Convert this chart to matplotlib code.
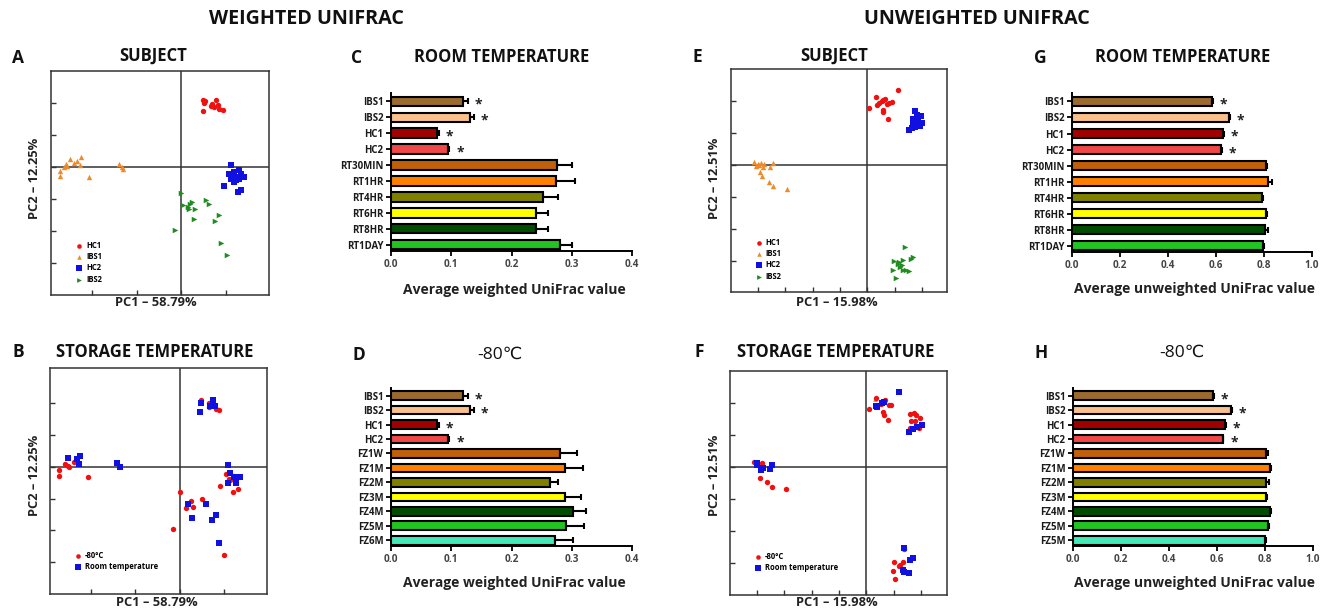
import numpy as np
import matplotlib
matplotlib.use("Agg")
import matplotlib.pyplot as plt

plt.rcParams['font.family'] = ['Open Sans', 'DejaVu Sans']

# ---------------- DATA ----------------
group_labels = ['IBS1', 'IBS2', 'HC1', 'HC2']
group_colors = ['#9A6A2E', '#F9C08C', '#A00000', '#F04848']

rt_labels = ['RT30MIN', 'RT1HR', 'RT4HR', 'RT6HR', 'RT8HR', 'RT1DAY']
rt_colors = ['#C0600A', '#FF8000', '#808000', '#FFFF00', '#004D00', '#22C422']
fz_labels_d = ['FZ1W', 'FZ1M', 'FZ2M', 'FZ3M', 'FZ4M', 'FZ5M', 'FZ6M']
fz_labels_h = ['FZ1W', 'FZ1M', 'FZ2M', 'FZ3M', 'FZ4M', 'FZ5M', 'FZ5M']
fz_colors = ['#C0600A', '#FF8000', '#808000', '#FFFF00', '#004D00', '#22C422', '#44E8B4']

# weighted UniFrac, room temperature (C)
w_rt_mean = [0.120, 0.131, 0.077, 0.095, 0.275, 0.274, 0.252, 0.240, 0.240, 0.280]
w_rt_err = [0.007, 0.007, 0.002, 0.002, 0.025, 0.032, 0.025, 0.021, 0.021, 0.020]
# weighted UniFrac, -80C (D)
w_fz_mean = [0.120, 0.131, 0.077, 0.095, 0.280, 0.288, 0.264, 0.289, 0.302, 0.291, 0.273]
w_fz_err = [0.007, 0.007, 0.002, 0.002, 0.029, 0.030, 0.014, 0.026, 0.022, 0.030, 0.029]
# unweighted UniFrac, room temperature (G)
u_rt_mean = [0.582, 0.655, 0.630, 0.620, 0.808, 0.818, 0.790, 0.808, 0.805, 0.795]
u_rt_err = [0.006, 0.005, 0.005, 0.004, 0.006, 0.014, 0.006, 0.005, 0.010, 0.004]
# unweighted UniFrac, -80C (H)
u_fz_mean = [0.582, 0.657, 0.633, 0.623, 0.806, 0.820, 0.806, 0.806, 0.822, 0.813, 0.799]
u_fz_err = [0.006, 0.005, 0.005, 0.004, 0.006, 0.005, 0.010, 0.004, 0.004, 0.004, 0.004]
significant_groups = [True, True, True, True]

# PCoA weighted, subject (A)
a_hc1_x = [0.100, 0.103, 0.097, 0.141, 0.148, 0.156, 0.164, 0.171, 0.186, 0.133, 0.106]
a_hc1_y = [0.210, 0.200, 0.174, 0.198, 0.188, 0.210, 0.193, 0.182, 0.179, 0.190, 0.205]
a_ibs1_x = [-0.545, -0.545, -0.518, -0.500, -0.511, -0.480, -0.470, -0.450, -0.455, -0.415, -0.279, -0.268, -0.261, -0.526]
a_ibs1_y = [-0.014, -0.029, 0.008, 0.026, 0.002, 0.013, 0.019, 0.031, 0.005, -0.031, 0.010, 0.000, -0.005, 0.000]
a_hc2_x = [0.224, 0.217, 0.232, 0.239, 0.255, 0.247, 0.262, 0.270, 0.282, 0.191, 0.255, 0.270, 0.239, 0.224, 0.258]
a_hc2_y = [0.005, -0.021, -0.026, -0.016, -0.031, -0.042, -0.036, -0.021, -0.031, -0.059, -0.078, -0.073, -0.047, -0.036, -0.010]
a_ibs2_x = [0.000, 0.009, 0.050, 0.042, 0.035, 0.062, 0.058, 0.111, 0.126, 0.171, 0.152, -0.026, 0.179, 0.206, 0.030]
a_ibs2_y = [-0.080, -0.120, -0.109, -0.117, -0.130, -0.130, -0.161, -0.104, -0.115, -0.151, -0.169, -0.196, -0.238, -0.276, -0.125]

# PCoA weighted, storage temperature (B)
b_frz_x = [0.098, 0.135, 0.132, 0.165, 0.180, -0.544, -0.544, -0.519, -0.504, -0.497, -0.478, -0.414, 0.208,
           0.223, 0.248, 0.241, 0.263, 0.183, 0.000, 0.053, 0.027, 0.063, 0.102, -0.030, 0.200, 0.226]
b_frz_y = [0.210, 0.200, 0.186, 0.182, 0.179, -0.011, -0.029, 0.009, 0.002, -0.001, 0.016, -0.032, -0.024,
           -0.040, -0.029, -0.078, -0.071, -0.060, -0.078, -0.107, -0.130, -0.128, -0.102, -0.196, -0.276, -0.042]
b_rt_x = [0.098, 0.093, 0.150, 0.138, 0.158, -0.504, -0.463, -0.448, -0.454, -0.283, -0.268, 0.218,
          0.226, 0.218, 0.248, 0.274, 0.253, 0.038, 0.057, 0.120, 0.147, 0.165, 0.177]
b_rt_y = [0.200, 0.172, 0.210, 0.190, 0.192, 0.026, 0.023, 0.033, 0.007, 0.0125, -0.001, 0.004,
          -0.019, -0.050, -0.034, -0.034, -0.050, -0.116, -0.161, -0.116, -0.168, -0.152, -0.240]

# PCoA unweighted, subject (E)
e_hc1_x = [0.004, 0.032, 0.034, 0.044, 0.052, 0.058, 0.056, 0.064, 0.070, 0.080, 0.088, 0.076, 0.113, 0.058]
e_hc1_y = [0.179, 0.211, 0.1875, 0.193, 0.198, 0.170, 0.203, 0.205, 0.191, 0.193, 0.195, 0.144, 0.232, 0.164]
e_hc2_x = [0.173, 0.179, 0.194, 0.167, 0.185, 0.198, 0.192, 0.173, 0.161, 0.153, 0.179, 0.165]
e_hc2_y = [0.167, 0.156, 0.151, 0.143, 0.141, 0.130, 0.122, 0.118, 0.115, 0.109, 0.125, 0.135]
e_ibs1_x = [-0.412, -0.400, -0.405, -0.388, -0.381, -0.376, -0.390, -0.354, -0.344, -0.384, -0.360, -0.344, -0.293, -0.396]
e_ibs1_y = [0.010, 0.003, -0.003, 0.007, -0.005, 0.003, -0.021, -0.005, 0.005, -0.036, -0.052, -0.066, -0.075, 0.000]
e_ibs2_x = [0.137, 0.131, 0.116, 0.097, 0.167, 0.158, 0.125, 0.113, 0.095, 0.131, 0.153, 0.141, 0.104, 0.119]
e_ibs2_y = [-0.257, -0.297, -0.302, -0.299, -0.286, -0.292, -0.3125, -0.309, -0.326, -0.328, -0.330, -0.328, -0.351, -0.318]

# PCoA unweighted, storage temperature (F)
f_frz_x = [0.009, 0.037, 0.039, 0.054, 0.070, 0.082, 0.090, 0.061, 0.063, 0.078, 0.159, 0.173, 0.183, 0.195, 0.163, 0.179,
           0.191, 0.159, -0.412, -0.398, -0.382, -0.388, -0.361, -0.345, -0.293, 0.102, 0.124, 0.134, 0.098, 0.118, 0.106, 0.139]
f_frz_y = [0.180, 0.214, 0.190, 0.195, 0.208, 0.193, 0.193, 0.170, 0.161, 0.146, 0.164, 0.167, 0.161, 0.153, 0.143, 0.143,
           0.122, 0.122, 0.014, 0.007, 0.0125, -0.034, -0.047, -0.065, -0.070, -0.299, -0.307, -0.299, -0.326, -0.309, -0.351, -0.257]
f_rt_x = [0.118, 0.039, 0.057, 0.037, 0.063, 0.204, 0.185, 0.171, 0.155, -0.400, -0.385, -0.378, -0.351, -0.345, -0.398,
          0.139, 0.161, 0.171, 0.137, 0.155, 0.134]
f_rt_y = [0.232, 0.1875, 0.198, 0.191, 0.203, 0.130, 0.125, 0.118, 0.109, 0.005, -0.010, -0.003, -0.007, 0.005, 0.010,
          -0.255, -0.292, -0.286, -0.328, -0.333, -0.323]
f_extra_x = [0.033]
f_extra_y = [0.211]

# ---------------- FIGURE ----------------
W, H = 1331, 613
fig = plt.figure(figsize=(W / 100, H / 100), dpi=100)
fig.patch.set_facecolor('white')


def rect(l, t, r, b):
    return [l / W, 1 - b / H, (r - l) / W, (b - t) / H]


def ftext(x, y, s, **kw):
    fig.text(x / W, 1 - y / H, s, ha=kw.pop('ha', 'center'), va=kw.pop('va', 'center'), **kw)


C_RED = '#F01010'
C_ORANGE = '#EE8A2A'
C_BLUE = '#1010E0'
C_GREEN = '#1E8C1E'


def pcoa_axes(r, xlim, ylim, xt, yt):
    ax = fig.add_axes(r)
    ax.set_xlim(*xlim)
    ax.set_ylim(*ylim)
    ax.set_xticks(xt)
    ax.set_yticks(yt)
    ax.tick_params(direction='in', length=3.5, width=1, color='#333333', labelbottom=False, labelleft=False)
    for s in ax.spines.values():
        s.set_linewidth(1.1)
        s.set_color('#333333')
    ax.axhline(0, color='#333333', lw=1.1, zorder=1)
    ax.axvline(0, color='#333333', lw=1.1, zorder=1)
    return ax


LEG = dict(frameon=False, handlelength=1.0, handletextpad=0.4, labelspacing=0.3, markerscale=0.85,
           prop={'weight': 'bold', 'size': 5.5})


def subject_scatter(ax, hc1, ibs1, hc2, ibs2):
    ax.scatter(*hc1, s=15, marker='o', color=C_RED, label='HC1', zorder=3, linewidths=0)
    ax.scatter(*ibs1, s=15, marker='^', color=C_ORANGE, label='IBS1', zorder=3, linewidths=0)
    ax.scatter(*hc2, s=18, marker='s', color=C_BLUE, label='HC2', zorder=3, linewidths=0)
    ax.scatter(*ibs2, s=16, marker='>', color=C_GREEN, label='IBS2', zorder=3, linewidths=0)
    ax.legend(loc='lower left', bbox_to_anchor=(0.08, 0.02), **LEG)


def storage_scatter(ax, frz, rt):
    ax.scatter(*frz, s=15, marker='o', color=C_RED, label='-80°C', zorder=3, linewidths=0)
    ax.scatter(*rt, s=18, marker='s', color=C_BLUE, label='Room temperature', zorder=3, linewidths=0)
    ax.legend(loc='lower left', bbox_to_anchor=(0.08, 0.07), **LEG)


def bar_axes(r, labels, colors, means, errs, xmax, xt, xtl):
    ax = fig.add_axes(r)
    n = len(labels)
    pos = np.arange(n)
    ax.barh(pos, means, height=0.6, color=colors, edgecolor='black', linewidth=1.5, zorder=2)
    ax.errorbar(means, pos, xerr=[np.zeros(n), errs], fmt='none', ecolor='black',
                elinewidth=1.5, capsize=2.5, capthick=1.5, zorder=3)
    for i, sig in enumerate(significant_groups):
        if sig:
            ax.annotate('*', xy=(means[i] + errs[i], pos[i]), xytext=(7.5, -2.5),
                        textcoords='offset points', ha='center', va='center',
                        fontsize=10, fontweight='bold', color='#222222')
    ax.set_xlim(0, xmax)
    ax.set_ylim(n - 1 + 0.4, -0.53)
    ax.set_yticks(pos)
    ax.set_yticklabels(labels, fontsize=6.9, fontweight='bold', color='#1a1a1a')
    ax.set_xticks(xt)
    ax.set_xticklabels(xtl, fontsize=7.2, fontweight='bold', color='#444444')
    ax.tick_params(direction='out', length=3.5, width=1.3, pad=2)
    for s in ['top', 'right']:
        ax.spines[s].set_visible(False)
    for s in ['left', 'bottom']:
        ax.spines[s].set_linewidth(1.4)
    return ax


# Panel A
axA = pcoa_axes(rect(51, 71, 269, 295), (-0.585, 0.395), (-0.40, 0.30),
                [-0.4, -0.2, 0.0, 0.2], [-0.3, -0.2, -0.1, 0.0, 0.1, 0.2])
subject_scatter(axA, (a_hc1_x, a_hc1_y), (a_ibs1_x, a_ibs1_y), (a_hc2_x, a_hc2_y), (a_ibs2_x, a_ibs2_y))

# Panel B
axB = pcoa_axes(rect(50, 368, 267, 594), (-0.585, 0.395), (-0.40, 0.31),
                [-0.4, -0.2, 0.0, 0.2], [-0.3, -0.2, -0.1, 0.0, 0.1, 0.2])
storage_scatter(axB, (b_frz_x, b_frz_y), (b_rt_x, b_rt_y))

# Panel E
axE = pcoa_axes(rect(731, 69, 947, 292), (-0.497, 0.29), (-0.396, 0.299),
                [-0.4, -0.3, -0.2, -0.1, 0.0, 0.1, 0.2], [-0.3, -0.2, -0.1, 0.0, 0.1, 0.2])
subject_scatter(axE, (e_hc1_x, e_hc1_y), (e_ibs1_x, e_ibs1_y), (e_hc2_x, e_hc2_y), (e_ibs2_x, e_ibs2_y))

# Panel F
axF = pcoa_axes(rect(730, 371, 947, 595), (-0.498, 0.295), (-0.401, 0.299),
                [-0.4, -0.3, -0.2, -0.1, 0.0, 0.1, 0.2], [-0.3, -0.2, -0.1, 0.0, 0.1, 0.2])
axF.scatter(f_extra_x, f_extra_y, s=12, marker='^', color=C_ORANGE, zorder=2, linewidths=0)
storage_scatter(axF, (f_frz_x, f_frz_y), (f_rt_x, f_rt_y))

# Bar panels
w_ticks = [0.0, 0.1, 0.2, 0.3, 0.4]
u_ticks = [0.0, 0.2, 0.4, 0.6, 0.8, 1.0]
axC = bar_axes(rect(391, 93, 632, 251), group_labels + rt_labels, group_colors + rt_colors,
               w_rt_mean, w_rt_err, 0.4, w_ticks, ['%.1f' % t for t in w_ticks])
axD = bar_axes(rect(391, 388, 632, 546), group_labels + fz_labels_d, group_colors + fz_colors,
               w_fz_mean, w_fz_err, 0.4, w_ticks, ['%.1f' % t for t in w_ticks])
axG = bar_axes(rect(1072, 93, 1312, 252), group_labels + rt_labels, group_colors + rt_colors,
               u_rt_mean, u_rt_err, 1.0, u_ticks, ['%.1f' % t for t in u_ticks])
axH = bar_axes(rect(1073, 388, 1313, 546), group_labels + fz_labels_h, group_colors + fz_colors,
               u_fz_mean, u_fz_err, 1.0, u_ticks, ['%.1f' % t for t in u_ticks])

# ---------------- TEXT ----------------
hdr = dict(fontsize=14.2, fontweight='bold', color='#111111')
ftext(306, 19, 'WEIGHTED UNIFRAC', **hdr)
ftext(977, 19, 'UNWEIGHTED UNIFRAC', **hdr)

letter = dict(fontsize=12.5, fontweight='bold', color='#111111', ha='left')
title = dict(fontsize=12, fontweight='bold', color='#111111')
for (x, y, s) in [(12, 58, 'A'), (351, 58, 'C'), (692, 57, 'E'), (1034, 58, 'G'),
                  (12, 352, 'B'), (352, 355, 'D'), (694, 352, 'F'), (1034, 353, 'H')]:
    ftext(x, y, s, **letter)

ftext(153, 56, 'SUBJECT', **title)
ftext(502, 57, 'ROOM TEMPERATURE', **title)
ftext(834, 56, 'SUBJECT', **title)
ftext(1183, 57, 'ROOM TEMPERATURE', **title)
ftext(155, 352, 'STORAGE TEMPERATURE', **title)
ftext(500, 355, '-80℃', fontsize=12.5, color='#111111')
ftext(836, 352, 'STORAGE TEMPERATURE', **title)
ftext(1182, 353, '-80℃', fontsize=12.5, color='#111111')

axl = dict(fontsize=9.3, fontweight='bold', color='#222222')
ftext(35, 178, 'PC2 – 12.25%', rotation=90, **axl)
ftext(156, 303, 'PC1 – 58.79%', **axl)
ftext(35, 475, 'PC2 – 12.25%', rotation=90, **axl)
ftext(157, 602, 'PC1 – 58.79%', **axl)
ftext(715, 178, 'PC2 – 12.51%', rotation=90, **axl)
ftext(837, 303, 'PC1 – 15.98%', **axl)
ftext(715, 475, 'PC2 – 12.51%', rotation=90, **axl)
ftext(837, 602, 'PC1 – 15.98%', **axl)

bxl = dict(fontsize=10, fontweight='bold', color='#222222')
ftext(514, 290, 'Average weighted UniFrac value', **bxl)
ftext(514, 583, 'Average weighted UniFrac value', **bxl)
ftext(1195, 289, 'Average unweighted UniFrac value', **bxl)
ftext(1195, 583, 'Average unweighted UniFrac value', **bxl)

fig.savefig('out.png', dpi=100, facecolor='white')
